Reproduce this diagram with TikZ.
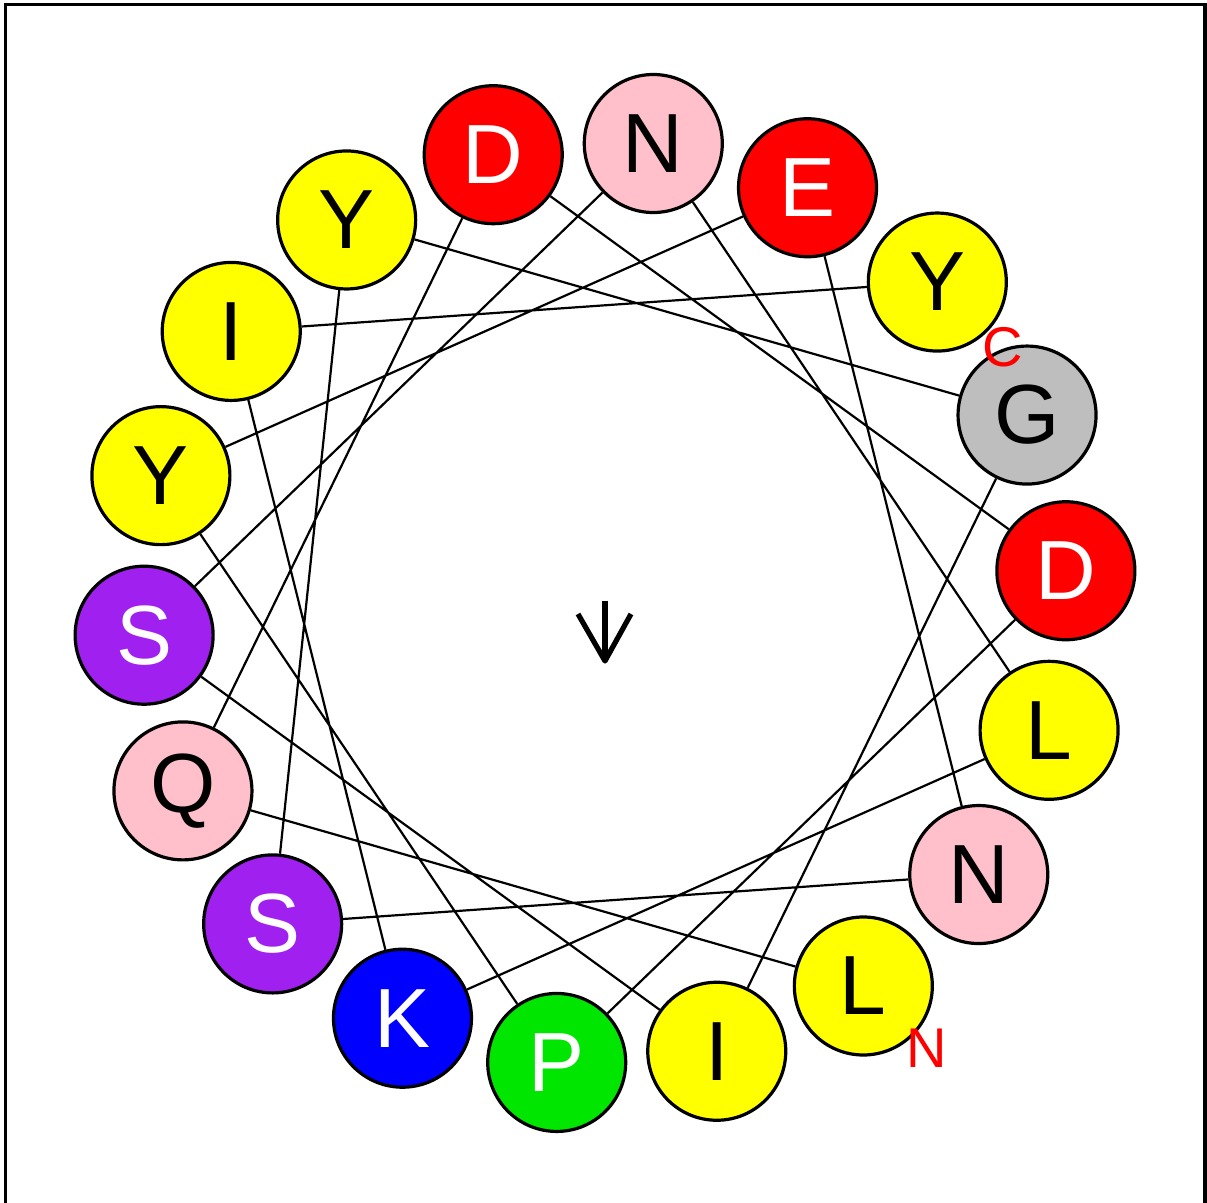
\documentclass[tikz,border=0pt]{standalone}
\usepackage{fontspec}
\setmainfont{Liberation Sans}
\usepackage{xcolor}
\usepackage{tikz}
\usetikzlibrary{arrows.meta,positioning,calc}

\definecolor{phobicyellow}{RGB}{255,255,0}
\definecolor{acidicred}{RGB}{255,0,0}
\definecolor{amidepink}{RGB}{255,192,203}
\definecolor{glygray}{RGB}{190,190,190}
\definecolor{hydroxylpurple}{RGB}{160,32,240}
\definecolor{basicblue}{RGB}{0,0,255}
\definecolor{prolinegreen}{RGB}{0,230,0}

\begin{document}
\begin{tikzpicture}[x=0.5pt, y=0.5pt,
    residue/.style={circle, draw, line width=1.6pt, minimum size=69pt, inner sep=0pt, font=\fontsize{42}{42}\selectfont},
    phobic/.style={residue, fill=phobicyellow, text=black},
    acidic/.style={residue, fill=acidicred, text=white},
    amide/.style={residue, fill=amidepink, text=black},
    glycine/.style={residue, fill=glygray, text=black},
    hydroxyl/.style={residue, fill=hydroxylpurple, text=white},
    basic/.style={residue, fill=basicblue, text=white},
    proline/.style={residue, fill=prolinegreen, text=white},
    link/.style={line width=1.1pt},
    pointer/.style={line width=2.6pt, line join=round},
    termlabel/.style={text=red, inner sep=0pt, font=\fontsize{28}{28}\selectfont}]
    \path[use as bounding box, clip] (0,0) rectangle (1207,1203);
    \draw[line width=1.75pt] (5.5,-10) rectangle (1205,1198.5);

    % wheel, 100 degrees per residue
    \begin{scope}[shift={(605,600)}]
        \node[phobic] (l1) at (-56:462) {L};
        \node[amide] (q2) at (-156:462) {Q};
        \node[acidic] (d3) at (104:462) {D};
        \node[acidic] (d4) at (4:462) {D};
        \node[proline] (p5) at (-96:462) {P};
        \node[phobic] (y6) at (164:462) {Y};
        \node[acidic] (e7) at (64:462) {E};
        \node[amide] (n8) at (-36:462) {N};
        \node[hydroxyl] (s9) at (-136:462) {S};
        \node[phobic] (y10) at (124:462) {Y};
        \node[glycine] (g11) at (24:462) {G};
        \node[phobic] (i12) at (-76:462) {I};
        \node[hydroxyl] (s13) at (-176:462) {S};
        \node[amide] (n14) at (84:462) {N};
        \node[phobic] (l15) at (-16:462) {L};
        \node[basic] (k16) at (-116:462) {K};
        \node[phobic] (i17) at (144:462) {I};
        \node[phobic] (y18) at (44:462) {Y};
        \coordinate (ctr) at (0,2);
        \coordinate (tip) at (0,-58);
    \end{scope}

    \draw [link] (l1) -- (q2) -- (d3) -- (d4) -- (p5) -- (y6) -- (e7) -- (n8) -- (s9)
        -- (y10) -- (g11) -- (i12) -- (s13) -- (n14) -- (l15) -- (k16) -- (i17) -- (y18);

    \draw [pointer] (ctr) -- (tip);
    \draw [pointer] ([shift={(-27,47)}]tip) -- (tip) -- ([shift={(26,47)}]tip);

    \node [termlabel] (nterm) at ([shift={(63,-62)}]l1) {N};
    \node [termlabel] (cterm) at ([shift={(65,-65)}]y18) {C};
\end{tikzpicture}
\end{document}
